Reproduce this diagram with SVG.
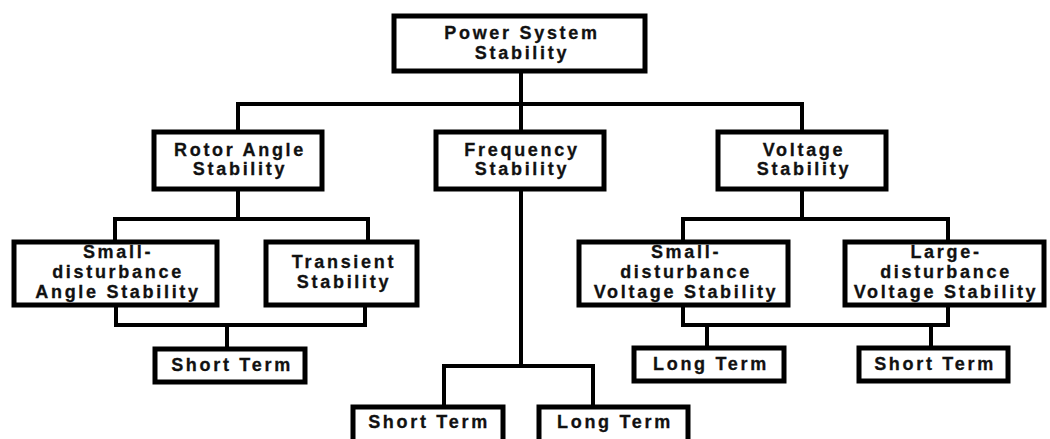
<svg xmlns="http://www.w3.org/2000/svg" width="1050" height="439" viewBox="0 0 1050 439">
<style>
.box{fill:#fff;stroke:#000;stroke-width:5}
.t{font-family:"Liberation Sans",Arial,sans-serif;font-weight:bold;font-size:18px;letter-spacing:2.7px;fill:#111;stroke:#111;stroke-width:0.3;text-anchor:middle}
.c{fill:none;stroke:#000;stroke-width:4;stroke-linejoin:miter}
</style>
<rect width="1050" height="439" fill="#fff"/>
<g id="connectors">
<path class="c" d="M521 73V104M238 130V104H802V130M521 104V130"/>
<path class="c" d="M238 191V219M115 240V219H368V240"/>
<path class="c" d="M116 307V325H365V307M227 325V347"/>
<path class="c" d="M521 191V366M444 405V366H593V405"/>
<path class="c" d="M802 191V219M683 241V219H948V241"/>
<path class="c" d="M683 307V325H948V307M707 325V346M931 325V346"/>
</g>
<g id="n-power"><rect class="box" x="394" y="16" width="251" height="55"/><text class="t" x="522" y="39">Power System</text><text class="t" x="522" y="59">Stability</text></g>
<g id="n-rotor"><rect class="box" x="154" y="132" width="168" height="57"/><text class="t" x="240" y="156">Rotor Angle</text><text class="t" x="240" y="175">Stability</text></g>
<g id="n-freq"><rect class="box" x="436" y="132" width="168" height="57"/><text class="t" x="522" y="156">Frequency</text><text class="t" x="522" y="175">Stability</text></g>
<g id="n-volt"><rect class="box" x="718" y="132" width="168" height="57"/><text class="t" x="804" y="156">Voltage</text><text class="t" x="804" y="175">Stability</text></g>
<g id="n-sdangle"><rect class="box" x="14" y="242" width="203" height="63"/><text class="t" x="118" y="258">Small-</text><text class="t" x="118" y="278">disturbance</text><text class="t" x="118" y="298">Angle Stability</text></g>
<g id="n-transient"><rect class="box" x="266" y="242" width="151" height="63"/><text class="t" x="344" y="268">Transient</text><text class="t" x="344" y="288">Stability</text></g>
<g id="n-sdvolt"><rect class="box" x="579" y="242" width="209" height="63"/><text class="t" x="686" y="258">Small-</text><text class="t" x="686" y="278">disturbance</text><text class="t" x="686" y="298">Voltage Stability</text></g>
<g id="n-ldvolt"><rect class="box" x="845" y="242" width="199" height="63"/><text class="t" x="946" y="258">Large-</text><text class="t" x="946" y="278">disturbance</text><text class="t" x="946" y="298">Voltage Stability</text></g>
<g id="n-st1"><rect class="box" x="155" y="349" width="150" height="33"/><text class="t" x="232" y="371">Short Term</text></g>
<g id="n-lt2"><rect class="box" x="634" y="348" width="150" height="33"/><text class="t" x="711" y="370">Long Term</text></g>
<g id="n-st3"><rect class="box" x="859" y="348" width="149" height="33"/><text class="t" x="935" y="370">Short Term</text></g>
<g id="n-st4"><rect class="box" x="353" y="407" width="150" height="40"/><text class="t" x="429" y="428">Short Term</text></g>
<g id="n-lt4"><rect class="box" x="539" y="407" width="149" height="40"/><text class="t" x="615" y="428">Long Term</text></g>
</svg>
